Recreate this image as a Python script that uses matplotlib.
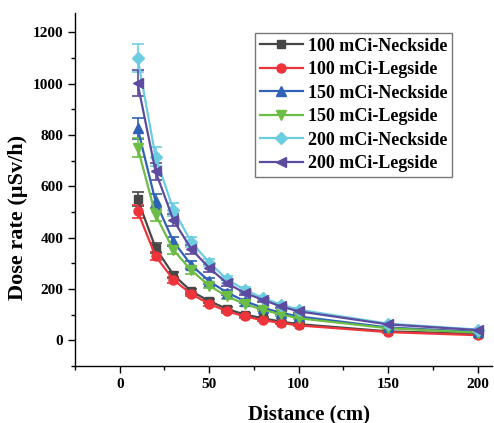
import numpy as np
import matplotlib
matplotlib.use("Agg")
import matplotlib.pyplot as plt
from matplotlib.ticker import MultipleLocator

plt.rcParams["font.family"] = ["Liberation Serif", "DejaVu Serif"]
plt.rcParams["font.weight"] = "bold"

# distances (cm)
distance = [10, 20, 30, 40, 50, 60, 70, 80, 90, 100, 150, 200]

# dose rates (uSv/h)
neck_100 = [550, 360, 255, 191, 153, 122, 100, 86, 73, 63, 35, 25]
leg_100 = [502, 328, 236, 180, 142, 113, 93, 78, 68, 58, 32, 20]
neck_150 = [826, 541, 385, 293, 230, 186, 152, 127, 107, 93, 50, 33]
leg_150 = [751, 489, 352, 272, 213, 171, 141, 119, 101, 86, 47, 30]
neck_200 = [1099, 716, 508, 383, 303, 237, 196, 165, 139, 119, 65, 42]
leg_200 = [1001, 658, 468, 355, 282, 222, 184, 158, 132, 113, 62, 40]

labels = ["100 mCi-Neckside", "100 mCi-Legside", "150 mCi-Neckside",
          "150 mCi-Legside", "200 mCi-Neckside", "200 mCi-Legside"]
series = [neck_100, leg_100, neck_150, leg_150, neck_200, leg_200]
colors = ["#474747", "#ee343a", "#2f62b6", "#6cbd45", "#6ccde0", "#5d4b9f"]
markers = ["s", "o", "^", "v", "D", "<"]
msizes = [6, 6.5, 7, 7, 6, 7]
rel_err = 0.05

fig = plt.figure(figsize=(4.94, 4.23), dpi=100)
ax = fig.add_axes([75 / 494, 57 / 423, 417 / 494, 353 / 423])

for vals, lab, c, m, ms in zip(series, labels, colors, markers, msizes):
    vals = np.array(vals)
    ax.errorbar(distance, vals, yerr=vals * rel_err, color=c, marker=m,
                markersize=ms, linewidth=1.6, elinewidth=1.2, capsize=4,
                capthick=1.2, label=lab)

ax.set_xlim(-25, 208)
ax.set_ylim(-100, 1275)
ax.xaxis.set_minor_locator(MultipleLocator(25))
ax.yaxis.set_minor_locator(MultipleLocator(100))
ax.set_xticks(range(0, 201, 50))
ax.set_yticks(range(0, 1201, 200))

for s in ["top", "right"]:
    ax.spines[s].set_visible(False)
for s in ["left", "bottom"]:
    ax.spines[s].set_linewidth(1.0)

ax.tick_params(which="major", direction="out", length=5, width=1.0, labelsize=11)
ax.tick_params(which="minor", direction="out", length=3, width=1.0)
for t in ax.get_xticklabels() + ax.get_yticklabels():
    t.set_fontweight("bold")

ax.set_xlabel("Distance (cm)", fontsize=15, fontweight="bold")
ax.set_ylabel("Dose rate (\u00b5Sv/h)", fontsize=16, fontweight="bold")
ax.xaxis.set_label_coords(0.561, -0.108)
ax.yaxis.set_label_coords(-0.112, 0.42)

handles, labs = ax.get_legend_handles_labels()
handles = [h[0] for h in handles]
leg = ax.legend(handles, labs, loc="upper left", bbox_to_anchor=(180 / 417, 333 / 353),
                prop={"family": "Liberation Serif", "weight": "bold", "size": 13},
                frameon=True, fancybox=False, edgecolor="#555555",
                handlelength=2.4, handletextpad=0.3, labelspacing=0.36,
                borderpad=0.25, borderaxespad=0.0)
leg.get_frame().set_linewidth(1.0)

fig.savefig("out.png", dpi=100)
